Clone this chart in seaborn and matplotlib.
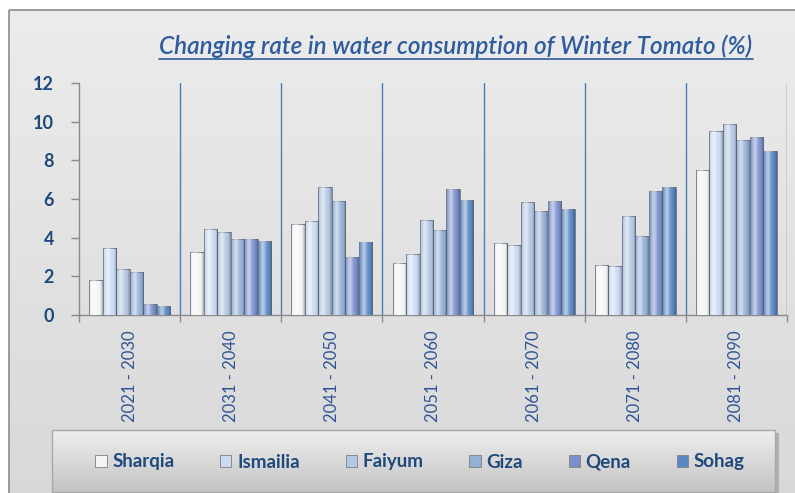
import numpy as np
import pandas as pd
import matplotlib
matplotlib.use("Agg")
import matplotlib.pyplot as plt
import seaborn as sns
from matplotlib.patches import Rectangle
from matplotlib.lines import Line2D

# ---- data ----
periods = ["2021 - 2030", "2031 - 2040", "2041 - 2050", "2051 - 2060",
           "2061 - 2070", "2071 - 2080", "2081 - 2090"]
governorates = ["Sharqia", "Ismailia", "Faiyum", "Giza", "Qena", "Sohag"]
sharqia  = [1.8, 3.25, 4.7, 2.7, 3.7, 2.6, 7.5]
ismailia = [3.45, 4.45, 4.85, 3.15, 3.6, 2.55, 9.5]
faiyum   = [2.4, 4.3, 6.6, 4.9, 5.85, 5.1, 9.9]
giza     = [2.25, 3.95, 5.9, 4.4, 5.4, 4.1, 9.05]
qena     = [0.55, 3.95, 3.0, 6.5, 5.9, 6.4, 9.2]
sohag    = [0.45, 3.85, 3.8, 5.95, 5.5, 6.6, 8.5]
colors = ["#f4f4f4", "#c9daf2", "#b4c7e2", "#95b0d6", "#7b8fcc", "#5a88c4"]

series = [sharqia, ismailia, faiyum, giza, qena, sohag]
df = pd.DataFrame({
    "period": np.repeat([periods], len(governorates), axis=0).ravel(),
    "gov": np.repeat(governorates, len(periods)),
    "value": np.concatenate(series),
})

W, H = 795, 493
sns.set_theme(style="white")
plt.rcParams["font.family"] = ["Lato", "DejaVu Sans"]
fig = plt.figure(figsize=(W / 100, H / 100), dpi=100)
fig.patch.set_facecolor("white")

# background with border (pixel coords)
bg = fig.add_axes([0, 0, 1, 1], zorder=-10)
bg.set_xlim(0, W)
bg.set_ylim(H, 0)
bg.axis("off")
grad = np.linspace(0, 1, 256).reshape(-1, 1)
top = np.array([0xec, 0xec, 0xec]) / 255
bot = np.array([0xd8, 0xd8, 0xd8]) / 255
img = top + (bot - top) * grad[..., None]
img = np.repeat(img, 2, axis=1)
bg.imshow(img, extent=(9, W + 10, H + 10, 10), aspect="auto", zorder=0)
bg.add_patch(Rectangle((9, 10), W, H, fill=False, edgecolor="#8c8c8c", lw=1.2, zorder=1))

# legend box
lb_top, lb_bot = np.array([0xee, 0xee, 0xee]) / 255, np.array([0xc4, 0xc4, 0xc4]) / 255
limg = lb_top + (lb_bot - lb_top) * grad[..., None]
limg = np.repeat(limg, 2, axis=1)
bg.add_patch(Rectangle((55, 433), 724, 62, facecolor="#b0b0b0", edgecolor="none", zorder=1))
bg.imshow(limg, extent=(52, 775, 492, 430), aspect="auto", zorder=2)
bg.add_patch(Rectangle((52, 430), 723, 62, fill=False, edgecolor="#a8a8a8", lw=1, zorder=3))

# main axes
ax = fig.add_axes([79 / W, 1 - 315 / H, 708 / W, 232 / H])
ax.set_facecolor("none")
sns.barplot(data=df, x="period", y="value", hue="gov", palette=colors,
            width=0.8, saturation=1, edgecolor="#6b7a90", linewidth=0.6,
            legend=False, ax=ax, zorder=3)

# bevel-like shading on each bar
xs = np.linspace(0, 1, 64)
alpha_w = np.clip(0.55 * np.exp(-((xs - 0.35) / 0.22) ** 2), 0, 1)
alpha_d = np.clip(0.35 * (np.exp(-((xs - 1.0) / 0.12) ** 2) + 0.5 * np.exp(-(xs / 0.08) ** 2)), 0, 1)
shade = np.zeros((1, 64, 4))
shade[0, :, :3] = 1.0
shade[0, :, 3] = alpha_w
dark = np.zeros((1, 64, 4))
dark[0, :, :3] = 0.15
dark[0, :, 3] = alpha_d
for p in list(ax.patches):
    x0, w, h = p.get_x(), p.get_width(), p.get_height()
    if h <= 0:
        continue
    for arr in (dark, shade):
        im = ax.imshow(arr, extent=(x0, x0 + w, 0, h), aspect="auto",
                       interpolation="bilinear", zorder=3.5)
        im.set_clip_path(p)

ax.set_xlim(-0.5, 6.5)
ax.set_ylim(0, 12)
ax.set_aspect("auto")
ax.set_yticks(np.arange(0, 13, 2))
ax.set_xlabel("")
ax.set_ylabel("")
for s in ["top", "right"]:
    ax.spines[s].set_visible(False)
for s in ["left", "bottom"]:
    ax.spines[s].set_color("#8a8a8a")
    ax.spines[s].set_linewidth(1)

for b in np.arange(0.5, 7, 1):
    ax.axvline(b, color="#4a7ebb", lw=1, zorder=1)

ax.set_xticks(np.arange(-0.5, 7, 1), minor=True)
ax.tick_params(axis="x", which="major", length=0, pad=11, labelrotation=90,
               labelsize=12, labelcolor="#2f5597")
ax.tick_params(axis="x", which="minor", length=5, color="#8a8a8a", width=1,
               direction="out", bottom=True)
ax.tick_params(axis="y", length=6, color="#8a8a8a", width=1, direction="out",
               left=True, pad=12, labelsize=13, labelcolor="#1f497d")
for t in ax.get_yticklabels():
    t.set_fontweight("bold")

# legend
handles = [Rectangle((0, 0), 1, 1, facecolor=c, edgecolor="#7f7f7f", lw=0.6)
           for c in colors]
leg = fig.legend(handles, governorates, loc="center", bbox_to_anchor=(420 / W, 1 - 462 / H),
                 ncol=6, frameon=False, handlelength=0.6, handleheight=0.6,
                 handletextpad=0.3, columnspacing=2.45,
                 prop={"weight": "bold", "size": 13.5})
for t in leg.get_texts():
    t.set_color("#1f497d")

# title with underline
title = fig.text(456 / W, 1 - 46 / H,
                 "Changing rate in water consumption of Winter Tomato (%)",
                 ha="center", va="center", fontsize=17.5, style="italic",
                 color="#2e5c9e", fontweight="semibold")
fig.canvas.draw()
bb = title.get_window_extent()
yline = bb.y0 - 1
fig.add_artist(Line2D([bb.x0 / W, bb.x1 / W], [yline / H, yline / H],
                      color="#2e5c9e", lw=1.2, transform=fig.transFigure))

fig.savefig("out.png", dpi=100)
